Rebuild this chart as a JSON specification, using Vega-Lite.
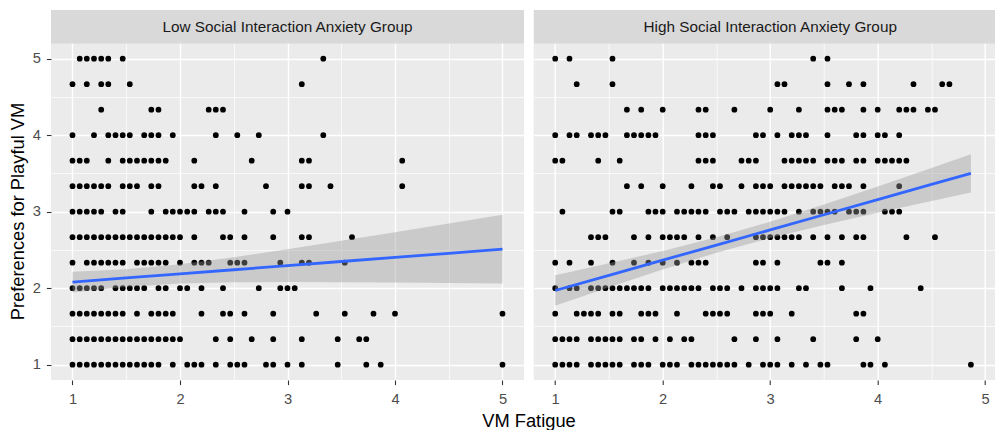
{
  "$schema": "https://vega.github.io/schema/vega-lite/v6.json",
  "background": "white",
  "padding": {"left": 8, "top": 10, "right": 0, "bottom": 0},
  "bounds": "flush",
  "spacing": 9.7,
  "config": {
    "view": {"fill": "#EBEBEB", "stroke": null},
    "font": "Liberation Sans",
    "axis": {"domain": false, "gridColor": "#FFFFFF", "tickColor": "#333333", "tickSize": 4.6, "tickWidth": 1.1, "labelColor": "#4D4D4D", "labelFontSize": 14.7, "labelFont": "Liberation Sans", "titleFont": "Liberation Sans", "titleFontSize": 18.3, "titleFontWeight": "normal", "titleColor": "#000000", "labelFlush": false, "labelOverlap": false},
    "axisX": {"labelPadding": 7},
    "axisY": {"labelPadding": 6}
  },
  "datasets": {
    "low": [
      {"x":1.067,"y":5},{"x":1.133,"y":5},{"x":1.2,"y":5},{"x":1.267,"y":5},{"x":1.333,"y":5},{"x":1.467,"y":5},{"x":3.333,"y":5},
      {"x":1,"y":4.667},{"x":1.133,"y":4.667},{"x":1.267,"y":4.667},{"x":1.333,"y":4.667},{"x":1.533,"y":4.667},{"x":3.133,"y":4.667},
      {"x":1.267,"y":4.333},{"x":1.733,"y":4.333},{"x":1.8,"y":4.333},{"x":2.267,"y":4.333},{"x":2.333,"y":4.333},{"x":2.4,"y":4.333},
      {"x":1,"y":4},{"x":1.2,"y":4},{"x":1.333,"y":4},{"x":1.4,"y":4},{"x":1.467,"y":4},{"x":1.533,"y":4},{"x":1.667,"y":4},{"x":1.733,"y":4},{"x":1.8,"y":4},{"x":1.933,"y":4},{"x":2.333,"y":4},{"x":2.533,"y":4},{"x":2.733,"y":4},{"x":3.333,"y":4},
      {"x":1,"y":3.667},{"x":1.067,"y":3.667},{"x":1.133,"y":3.667},{"x":1.333,"y":3.667},{"x":1.467,"y":3.667},{"x":1.533,"y":3.667},{"x":1.6,"y":3.667},{"x":1.667,"y":3.667},{"x":1.733,"y":3.667},{"x":1.8,"y":3.667},{"x":1.867,"y":3.667},{"x":2.133,"y":3.667},{"x":2.667,"y":3.667},{"x":3.133,"y":3.667},{"x":3.2,"y":3.667},{"x":4.067,"y":3.667},
      {"x":1,"y":3.333},{"x":1.067,"y":3.333},{"x":1.133,"y":3.333},{"x":1.2,"y":3.333},{"x":1.267,"y":3.333},{"x":1.333,"y":3.333},{"x":1.467,"y":3.333},{"x":1.533,"y":3.333},{"x":1.6,"y":3.333},{"x":1.733,"y":3.333},{"x":1.8,"y":3.333},{"x":2.133,"y":3.333},{"x":2.2,"y":3.333},{"x":2.333,"y":3.333},{"x":2.8,"y":3.333},{"x":3.133,"y":3.333},{"x":3.2,"y":3.333},{"x":3.4,"y":3.333},{"x":4.067,"y":3.333},
      {"x":1,"y":3},{"x":1.067,"y":3},{"x":1.133,"y":3},{"x":1.2,"y":3},{"x":1.267,"y":3},{"x":1.4,"y":3},{"x":1.467,"y":3},{"x":1.733,"y":3},{"x":1.867,"y":3},{"x":1.933,"y":3},{"x":2,"y":3},{"x":2.067,"y":3},{"x":2.133,"y":3},{"x":2.267,"y":3},{"x":2.333,"y":3},{"x":2.4,"y":3},{"x":2.6,"y":3},{"x":2.867,"y":3},{"x":3,"y":3},
      {"x":1,"y":2.667},{"x":1.067,"y":2.667},{"x":1.133,"y":2.667},{"x":1.2,"y":2.667},{"x":1.267,"y":2.667},{"x":1.333,"y":2.667},{"x":1.4,"y":2.667},{"x":1.467,"y":2.667},{"x":1.533,"y":2.667},{"x":1.6,"y":2.667},{"x":1.667,"y":2.667},{"x":1.733,"y":2.667},{"x":1.8,"y":2.667},{"x":1.867,"y":2.667},{"x":1.933,"y":2.667},{"x":2,"y":2.667},{"x":2.133,"y":2.667},{"x":2.4,"y":2.667},{"x":2.467,"y":2.667},{"x":2.6,"y":2.667},{"x":2.867,"y":2.667},{"x":3.133,"y":2.667},{"x":3.2,"y":2.667},{"x":3.6,"y":2.667},
      {"x":1,"y":2.333},{"x":1.133,"y":2.333},{"x":1.2,"y":2.333},{"x":1.267,"y":2.333},{"x":1.333,"y":2.333},{"x":1.4,"y":2.333},{"x":1.467,"y":2.333},{"x":1.6,"y":2.333},{"x":1.667,"y":2.333},{"x":1.733,"y":2.333},{"x":1.8,"y":2.333},{"x":1.867,"y":2.333},{"x":2,"y":2.333},{"x":2.133,"y":2.333},{"x":2.2,"y":2.333},{"x":2.267,"y":2.333},{"x":2.467,"y":2.333},{"x":2.533,"y":2.333},{"x":2.6,"y":2.333},{"x":2.933,"y":2.333},{"x":3.133,"y":2.333},{"x":3.2,"y":2.333},{"x":3.533,"y":2.333},
      {"x":1,"y":2},{"x":1.067,"y":2},{"x":1.133,"y":2},{"x":1.2,"y":2},{"x":1.267,"y":2},{"x":1.4,"y":2},{"x":1.467,"y":2},{"x":1.533,"y":2},{"x":1.6,"y":2},{"x":1.667,"y":2},{"x":1.8,"y":2},{"x":1.867,"y":2},{"x":2,"y":2},{"x":2.067,"y":2},{"x":2.2,"y":2},{"x":2.4,"y":2},{"x":2.733,"y":2},{"x":2.933,"y":2},{"x":3,"y":2},{"x":3.067,"y":2},
      {"x":1,"y":1.667},{"x":1.067,"y":1.667},{"x":1.133,"y":1.667},{"x":1.2,"y":1.667},{"x":1.267,"y":1.667},{"x":1.333,"y":1.667},{"x":1.4,"y":1.667},{"x":1.467,"y":1.667},{"x":1.6,"y":1.667},{"x":1.733,"y":1.667},{"x":1.8,"y":1.667},{"x":1.867,"y":1.667},{"x":1.933,"y":1.667},{"x":2.2,"y":1.667},{"x":2.4,"y":1.667},{"x":2.467,"y":1.667},{"x":2.6,"y":1.667},{"x":2.867,"y":1.667},{"x":3.267,"y":1.667},{"x":3.533,"y":1.667},{"x":3.8,"y":1.667},{"x":4,"y":1.667},{"x":5,"y":1.667},
      {"x":1,"y":1.333},{"x":1.067,"y":1.333},{"x":1.133,"y":1.333},{"x":1.2,"y":1.333},{"x":1.267,"y":1.333},{"x":1.333,"y":1.333},{"x":1.4,"y":1.333},{"x":1.467,"y":1.333},{"x":1.533,"y":1.333},{"x":1.6,"y":1.333},{"x":1.667,"y":1.333},{"x":1.733,"y":1.333},{"x":1.8,"y":1.333},{"x":1.867,"y":1.333},{"x":1.933,"y":1.333},{"x":2,"y":1.333},{"x":2.333,"y":1.333},{"x":2.467,"y":1.333},{"x":2.667,"y":1.333},{"x":2.867,"y":1.333},{"x":3.133,"y":1.333},{"x":3.467,"y":1.333},{"x":3.667,"y":1.333},{"x":3.733,"y":1.333},
      {"x":1,"y":1},{"x":1.067,"y":1},{"x":1.133,"y":1},{"x":1.2,"y":1},{"x":1.267,"y":1},{"x":1.333,"y":1},{"x":1.4,"y":1},{"x":1.467,"y":1},{"x":1.533,"y":1},{"x":1.6,"y":1},{"x":1.667,"y":1},{"x":1.733,"y":1},{"x":1.8,"y":1},{"x":1.933,"y":1},{"x":2.067,"y":1},{"x":2.133,"y":1},{"x":2.2,"y":1},{"x":2.333,"y":1},{"x":2.467,"y":1},{"x":2.533,"y":1},{"x":2.6,"y":1},{"x":2.8,"y":1},{"x":2.867,"y":1},{"x":3,"y":1},{"x":3.133,"y":1},{"x":3.467,"y":1},{"x":3.733,"y":1},{"x":3.867,"y":1},{"x":5,"y":1}
    ],
    "high": [
      {"x":1,"y":5},{"x":1.133,"y":5},{"x":1.533,"y":5},{"x":3.4,"y":5},{"x":3.533,"y":5},
      {"x":1.2,"y":4.667},{"x":1.533,"y":4.667},{"x":3.067,"y":4.667},{"x":3.133,"y":4.667},{"x":3.533,"y":4.667},{"x":3.733,"y":4.667},{"x":3.867,"y":4.667},{"x":4.333,"y":4.667},{"x":4.6,"y":4.667},{"x":4.667,"y":4.667},
      {"x":1.667,"y":4.333},{"x":1.8,"y":4.333},{"x":2,"y":4.333},{"x":2.333,"y":4.333},{"x":2.4,"y":4.333},{"x":2.667,"y":4.333},{"x":3,"y":4.333},{"x":3.267,"y":4.333},{"x":3.533,"y":4.333},{"x":3.6,"y":4.333},{"x":3.667,"y":4.333},{"x":3.867,"y":4.333},{"x":4,"y":4.333},{"x":4.2,"y":4.333},{"x":4.267,"y":4.333},{"x":4.333,"y":4.333},{"x":4.467,"y":4.333},{"x":4.533,"y":4.333},
      {"x":1,"y":4},{"x":1.133,"y":4},{"x":1.2,"y":4},{"x":1.333,"y":4},{"x":1.4,"y":4},{"x":1.467,"y":4},{"x":1.667,"y":4},{"x":1.733,"y":4},{"x":1.8,"y":4},{"x":1.867,"y":4},{"x":1.933,"y":4},{"x":2.333,"y":4},{"x":2.4,"y":4},{"x":2.467,"y":4},{"x":2.867,"y":4},{"x":2.933,"y":4},{"x":3.067,"y":4},{"x":3.2,"y":4},{"x":3.267,"y":4},{"x":3.333,"y":4},{"x":3.533,"y":4},{"x":3.8,"y":4},{"x":3.867,"y":4},{"x":4,"y":4},{"x":4.067,"y":4},{"x":4.2,"y":4},
      {"x":1,"y":3.667},{"x":1.067,"y":3.667},{"x":1.4,"y":3.667},{"x":1.6,"y":3.667},{"x":2.333,"y":3.667},{"x":2.4,"y":3.667},{"x":2.467,"y":3.667},{"x":2.733,"y":3.667},{"x":2.8,"y":3.667},{"x":2.867,"y":3.667},{"x":3.133,"y":3.667},{"x":3.2,"y":3.667},{"x":3.267,"y":3.667},{"x":3.333,"y":3.667},{"x":3.4,"y":3.667},{"x":3.533,"y":3.667},{"x":3.6,"y":3.667},{"x":3.667,"y":3.667},{"x":3.8,"y":3.667},{"x":3.867,"y":3.667},{"x":4,"y":3.667},{"x":4.067,"y":3.667},{"x":4.133,"y":3.667},{"x":4.2,"y":3.667},{"x":4.267,"y":3.667},
      {"x":1.667,"y":3.333},{"x":1.8,"y":3.333},{"x":2,"y":3.333},{"x":2.267,"y":3.333},{"x":2.467,"y":3.333},{"x":2.533,"y":3.333},{"x":2.733,"y":3.333},{"x":2.867,"y":3.333},{"x":2.933,"y":3.333},{"x":3,"y":3.333},{"x":3.133,"y":3.333},{"x":3.2,"y":3.333},{"x":3.267,"y":3.333},{"x":3.333,"y":3.333},{"x":3.4,"y":3.333},{"x":3.467,"y":3.333},{"x":3.6,"y":3.333},{"x":3.667,"y":3.333},{"x":3.733,"y":3.333},{"x":3.867,"y":3.333},{"x":4.2,"y":3.333},
      {"x":1.067,"y":3},{"x":1.533,"y":3},{"x":1.6,"y":3},{"x":1.867,"y":3},{"x":1.933,"y":3},{"x":2,"y":3},{"x":2.133,"y":3},{"x":2.2,"y":3},{"x":2.267,"y":3},{"x":2.333,"y":3},{"x":2.4,"y":3},{"x":2.533,"y":3},{"x":2.6,"y":3},{"x":2.667,"y":3},{"x":2.8,"y":3},{"x":2.867,"y":3},{"x":2.933,"y":3},{"x":3,"y":3},{"x":3.067,"y":3},{"x":3.133,"y":3},{"x":3.267,"y":3},{"x":3.4,"y":3},{"x":3.467,"y":3},{"x":3.533,"y":3},{"x":3.6,"y":3},{"x":3.733,"y":3},{"x":3.8,"y":3},{"x":3.867,"y":3},{"x":4.067,"y":3},{"x":4.133,"y":3},{"x":4.2,"y":3},
      {"x":1.333,"y":2.667},{"x":1.4,"y":2.667},{"x":1.467,"y":2.667},{"x":1.733,"y":2.667},{"x":1.867,"y":2.667},{"x":2,"y":2.667},{"x":2.067,"y":2.667},{"x":2.133,"y":2.667},{"x":2.2,"y":2.667},{"x":2.333,"y":2.667},{"x":2.467,"y":2.667},{"x":2.6,"y":2.667},{"x":2.867,"y":2.667},{"x":2.933,"y":2.667},{"x":3,"y":2.667},{"x":3.067,"y":2.667},{"x":3.133,"y":2.667},{"x":3.2,"y":2.667},{"x":3.267,"y":2.667},{"x":3.4,"y":2.667},{"x":3.533,"y":2.667},{"x":3.667,"y":2.667},{"x":3.8,"y":2.667},{"x":3.867,"y":2.667},{"x":4.267,"y":2.667},{"x":4.533,"y":2.667},
      {"x":1,"y":2.333},{"x":1.133,"y":2.333},{"x":1.333,"y":2.333},{"x":1.533,"y":2.333},{"x":1.733,"y":2.333},{"x":1.867,"y":2.333},{"x":2,"y":2.333},{"x":2.133,"y":2.333},{"x":2.267,"y":2.333},{"x":2.333,"y":2.333},{"x":2.4,"y":2.333},{"x":2.867,"y":2.333},{"x":2.933,"y":2.333},{"x":3.067,"y":2.333},{"x":3.467,"y":2.333},{"x":3.533,"y":2.333},{"x":3.667,"y":2.333},
      {"x":1,"y":2},{"x":1.133,"y":2},{"x":1.2,"y":2},{"x":1.333,"y":2},{"x":1.4,"y":2},{"x":1.467,"y":2},{"x":1.533,"y":2},{"x":1.6,"y":2},{"x":1.667,"y":2},{"x":1.733,"y":2},{"x":1.8,"y":2},{"x":1.867,"y":2},{"x":2,"y":2},{"x":2.067,"y":2},{"x":2.133,"y":2},{"x":2.2,"y":2},{"x":2.267,"y":2},{"x":2.333,"y":2},{"x":2.467,"y":2},{"x":2.533,"y":2},{"x":2.6,"y":2},{"x":2.733,"y":2},{"x":2.867,"y":2},{"x":2.933,"y":2},{"x":3,"y":2},{"x":3.067,"y":2},{"x":3.267,"y":2},{"x":3.333,"y":2},{"x":3.667,"y":2},{"x":3.933,"y":2},{"x":4.4,"y":2},
      {"x":1,"y":1.667},{"x":1.2,"y":1.667},{"x":1.267,"y":1.667},{"x":1.333,"y":1.667},{"x":1.4,"y":1.667},{"x":1.533,"y":1.667},{"x":1.6,"y":1.667},{"x":1.8,"y":1.667},{"x":1.867,"y":1.667},{"x":1.933,"y":1.667},{"x":2.133,"y":1.667},{"x":2.4,"y":1.667},{"x":2.467,"y":1.667},{"x":2.533,"y":1.667},{"x":2.6,"y":1.667},{"x":2.867,"y":1.667},{"x":2.933,"y":1.667},{"x":3,"y":1.667},{"x":3.2,"y":1.667},{"x":3.8,"y":1.667},{"x":3.867,"y":1.667},
      {"x":1,"y":1.333},{"x":1.067,"y":1.333},{"x":1.133,"y":1.333},{"x":1.2,"y":1.333},{"x":1.333,"y":1.333},{"x":1.4,"y":1.333},{"x":1.467,"y":1.333},{"x":1.533,"y":1.333},{"x":1.6,"y":1.333},{"x":1.733,"y":1.333},{"x":1.8,"y":1.333},{"x":1.933,"y":1.333},{"x":2.067,"y":1.333},{"x":2.2,"y":1.333},{"x":2.267,"y":1.333},{"x":2.667,"y":1.333},{"x":2.867,"y":1.333},{"x":3.067,"y":1.333},{"x":3.4,"y":1.333},{"x":3.8,"y":1.333},{"x":4,"y":1.333},
      {"x":1,"y":1},{"x":1.067,"y":1},{"x":1.133,"y":1},{"x":1.2,"y":1},{"x":1.333,"y":1},{"x":1.4,"y":1},{"x":1.467,"y":1},{"x":1.533,"y":1},{"x":1.6,"y":1},{"x":1.733,"y":1},{"x":1.8,"y":1},{"x":1.867,"y":1},{"x":2,"y":1},{"x":2.067,"y":1},{"x":2.133,"y":1},{"x":2.267,"y":1},{"x":2.333,"y":1},{"x":2.4,"y":1},{"x":2.467,"y":1},{"x":2.533,"y":1},{"x":2.6,"y":1},{"x":2.667,"y":1},{"x":2.8,"y":1},{"x":2.933,"y":1},{"x":3,"y":1},{"x":3.067,"y":1},{"x":3.2,"y":1},{"x":3.333,"y":1},{"x":3.467,"y":1},{"x":3.533,"y":1},{"x":3.867,"y":1},{"x":3.933,"y":1},{"x":4.067,"y":1},{"x":4.867,"y":1}
    ],
    "lowfit": [
      {"x":1,"fit":2.08,"lo":1.945,"hi":2.215},
      {"x":1.5,"fit":2.134,"lo":2.02,"hi":2.248},
      {"x":2,"fit":2.188,"lo":2.062,"hi":2.314},
      {"x":2.5,"fit":2.241,"lo":2.077,"hi":2.405},
      {"x":3,"fit":2.295,"lo":2.081,"hi":2.509},
      {"x":3.5,"fit":2.349,"lo":2.079,"hi":2.619},
      {"x":4,"fit":2.403,"lo":2.074,"hi":2.732},
      {"x":4.5,"fit":2.456,"lo":2.067,"hi":2.845},
      {"x":5,"fit":2.51,"lo":2.06,"hi":2.96}
    ],
    "highfit": [
      {"x":1,"fit":1.97,"lo":1.77,"hi":2.17},
      {"x":1.5,"fit":2.168,"lo":2.011,"hi":2.325},
      {"x":2,"fit":2.366,"lo":2.245,"hi":2.487},
      {"x":2.5,"fit":2.564,"lo":2.463,"hi":2.665},
      {"x":3,"fit":2.762,"lo":2.656,"hi":2.868},
      {"x":3.5,"fit":2.96,"lo":2.827,"hi":3.093},
      {"x":4,"fit":3.158,"lo":2.986,"hi":3.33},
      {"x":4.5,"fit":3.356,"lo":3.14,"hi":3.572},
      {"x":4.867,"fit":3.501,"lo":3.25,"hi":3.752}
    ],
    "lowstrip": [{"label": "Low Social Interaction Anxiety Group"}],
    "highstrip": [{"label": "High Social Interaction Anxiety Group"}]
  },
  "hconcat": [
    {
      "width": 473,
      "height": 370,
      "layer": [
        {
          "data": {"name": "low"},
          "mark": {"type": "circle", "size": 33, "color": "#000000", "opacity": 1},
          "encoding": {
            "x": {"field": "x", "type": "quantitative", "scale": {"domain": [0.8, 5.2], "nice": false, "zero": false},
              "axis": {"values": [1, 1.5, 2, 2.5, 3, 3.5, 4, 4.5, 5],
                "labelExpr": "datum.value % 1 === 0 ? format(datum.value, 'd') : ''",
                "gridWidth": {"condition": {"test": "datum.value % 1 === 0", "value": 1.4}, "value": 0.7},
                "tickOpacity": {"condition": {"test": "datum.value % 1 === 0", "value": 1}, "value": 0},
                "title": "VM Fatigue", "titleX": 477.5, "titleY": 41, "titleAlign": "center", "titleBaseline": "middle"}},
            "y": {"field": "y", "type": "quantitative", "scale": {"domain": [0.8, 5.6366], "nice": false, "zero": false},
              "axis": {"values": [1, 1.5, 2, 2.5, 3, 3.5, 4, 4.5, 5],
                "labelExpr": "datum.value % 1 === 0 ? format(datum.value, 'd') : ''",
                "gridWidth": {"condition": {"test": "datum.value % 1 === 0", "value": 1.4}, "value": 0.7},
                "tickOpacity": {"condition": {"test": "datum.value % 1 === 0", "value": 1}, "value": 0},
                "title": "Preferences for Playful VM", "titleX": -32.3, "titleY": 201, "titleAngle": -90, "titleAlign": "center", "titleBaseline": "middle"}}
          }
        },
        {
          "data": {"name": "lowfit"},
          "mark": {"type": "area", "color": "#999999", "opacity": 0.4},
          "encoding": {
            "x": {"field": "x", "type": "quantitative", "scale": {"domain": [0.8, 5.2], "nice": false, "zero": false}},
            "y": {"field": "lo", "type": "quantitative", "scale": {"domain": [0.8, 5.6366], "nice": false, "zero": false}},
            "y2": {"field": "hi"}
          }
        },
        {
          "data": {"name": "lowfit"},
          "mark": {"type": "line", "color": "#3366FF", "strokeWidth": 2.8},
          "encoding": {
            "x": {"field": "x", "type": "quantitative", "scale": {"domain": [0.8, 5.2], "nice": false, "zero": false}},
            "y": {"field": "fit", "type": "quantitative", "scale": {"domain": [0.8, 5.6366], "nice": false, "zero": false}}
          }
        },
        {
          "data": {"name": "lowstrip"},
          "mark": {"type": "rect", "color": "#D9D9D9", "opacity": 1},
          "encoding": {
            "x": {"datum": 0.8, "type": "quantitative", "scale": {"domain": [0.8, 5.2], "nice": false, "zero": false}},
            "x2": {"datum": 5.2},
            "y": {"datum": 5.2, "type": "quantitative", "scale": {"domain": [0.8, 5.6366], "nice": false, "zero": false}},
            "y2": {"datum": 5.6366}
          }
        },
        {
          "data": {"name": "lowstrip"},
          "mark": {"type": "text", "fontSize": 15.3, "color": "#1A1A1A", "align": "center", "baseline": "middle", "font": "Liberation Sans"},
          "encoding": {
            "x": {"datum": 3, "type": "quantitative", "scale": {"domain": [0.8, 5.2], "nice": false, "zero": false}},
            "y": {"datum": 5.418, "type": "quantitative", "scale": {"domain": [0.8, 5.6366], "nice": false, "zero": false}},
            "text": {"field": "label"}
          }
        }
      ]
    },
    {
      "width": 463,
      "height": 370,
      "layer": [
        {
          "data": {"name": "high"},
          "mark": {"type": "circle", "size": 33, "color": "#000000", "opacity": 1},
          "encoding": {
            "x": {"field": "x", "type": "quantitative", "scale": {"domain": [0.8, 5.107], "nice": false, "zero": false},
              "axis": {"values": [1, 1.5, 2, 2.5, 3, 3.5, 4, 4.5, 5],
                "labelExpr": "datum.value % 1 === 0 ? format(datum.value, 'd') : ''",
                "gridWidth": {"condition": {"test": "datum.value % 1 === 0", "value": 1.4}, "value": 0.7},
                "tickOpacity": {"condition": {"test": "datum.value % 1 === 0", "value": 1}, "value": 0},
                "title": null}},
            "y": {"field": "y", "type": "quantitative", "scale": {"domain": [0.8, 5.6366], "nice": false, "zero": false},
              "axis": {"values": [1, 1.5, 2, 2.5, 3, 3.5, 4, 4.5, 5],
                "labels": false, "ticks": false,
                "gridWidth": {"condition": {"test": "datum.value % 1 === 0", "value": 1.4}, "value": 0.7},
                "title": null}}
          }
        },
        {
          "data": {"name": "highfit"},
          "mark": {"type": "area", "color": "#999999", "opacity": 0.4},
          "encoding": {
            "x": {"field": "x", "type": "quantitative", "scale": {"domain": [0.8, 5.107], "nice": false, "zero": false}},
            "y": {"field": "lo", "type": "quantitative", "scale": {"domain": [0.8, 5.6366], "nice": false, "zero": false}},
            "y2": {"field": "hi"}
          }
        },
        {
          "data": {"name": "highfit"},
          "mark": {"type": "line", "color": "#3366FF", "strokeWidth": 2.8},
          "encoding": {
            "x": {"field": "x", "type": "quantitative", "scale": {"domain": [0.8, 5.107], "nice": false, "zero": false}},
            "y": {"field": "fit", "type": "quantitative", "scale": {"domain": [0.8, 5.6366], "nice": false, "zero": false}}
          }
        },
        {
          "data": {"name": "highstrip"},
          "mark": {"type": "rect", "color": "#D9D9D9", "opacity": 1, "clip": true},
          "encoding": {
            "x": {"datum": 0.8, "type": "quantitative", "scale": {"domain": [0.8, 5.107], "nice": false, "zero": false}},
            "x2": {"datum": 5.2},
            "y": {"datum": 5.2, "type": "quantitative", "scale": {"domain": [0.8, 5.6366], "nice": false, "zero": false}},
            "y2": {"datum": 5.6366}
          }
        },
        {
          "data": {"name": "highstrip"},
          "mark": {"type": "text", "fontSize": 15.3, "color": "#1A1A1A", "align": "center", "baseline": "middle", "font": "Liberation Sans"},
          "encoding": {
            "x": {"datum": 3, "type": "quantitative", "scale": {"domain": [0.8, 5.107], "nice": false, "zero": false}},
            "y": {"datum": 5.418, "type": "quantitative", "scale": {"domain": [0.8, 5.6366], "nice": false, "zero": false}},
            "text": {"field": "label"}
          }
        }
      ]
    }
  ]
}
